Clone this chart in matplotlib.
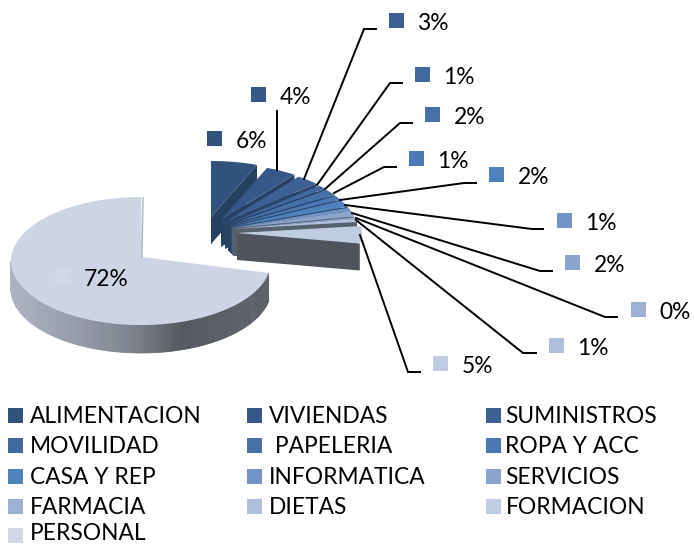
"""
Exploded 3D style pie of expenses, drawn by hand on a pixel sized axes
"""

import matplotlib
matplotlib.use('Agg')
import matplotlib.pyplot as plt
from matplotlib.collections import PolyCollection
from matplotlib.colors import to_rgb
from matplotlib.patches import Polygon, Rectangle
import numpy as np

categories = ['ALIMENTACION', 'VIVIENDAS', 'SUMINISTROS', 'MOVILIDAD', ' PAPELERIA', 'ROPA Y ACC',
              'CASA Y REP', 'INFORMATICA', 'SERVICIOS', 'FARMACIA', 'DIETAS', 'FORMACION', 'PERSONAL']
values = [6.0, 4.0, 3.0, 1.2, 1.8, 1.2, 1.9, 1.0, 1.6, 0.4, 0.9, 5.0, 72.0]
colors = ['#31527c', '#37598a', '#3c6093', '#41689f', '#4570a8', '#4a79b5', '#4f81bd',
          '#7394c6', '#8aa4cc', '#9eb1d2', '#b0c0dc', '#c0cce1', '#d0d8e8']

# layout, all in pixels of the original picture
apex = [(211, 217), (221, 220), (225, 222), (228, 224), (229, 225), (230, 226), (231, 227),
        (232, 228), (232, 228), (233, 229), (233, 229), (237, 233)]
shade = [0.78, 0.72, 0.72, 0.6, 0.6, 0.6, 0.6, 0.6, 0.6, 0.55, 0.5, 0.41]
label_sq = [(214.5, 138.5), (258.5, 94.5), (396.5, 20.5), (422.5, 74.5), (432.5, 114.5), (416.5, 158.5),
            (496.5, 174.5), (564.5, 220.5), (572.5, 262.5), (638.5, 309.5), (556.5, 345.5), (440.5, 363.5),
            (62.5, 276)]
leaders = [None,
           [(277.5, 170), (277.5, 111)],
           [(304, 179), (364, 29), (376, 29)],
           [(317, 185), (390, 83), (402, 83)],
           [(325, 189), (400, 123), (412, 123)],
           [(334, 193), (384, 167), (396, 167)],
           [(340, 200), (464, 183), (476, 183)],
           [(345, 205), (532, 229), (543, 229)],
           [(352, 213), (540, 271), (552, 271)],
           [(356, 218), (605, 317), (617, 317)],
           [(356, 220), (523, 353), (536, 353)],
           [(360, 235), (408, 372), (420, 372)],
           None]
legend_x = [8, 247, 486]
legend_text_x = [30, 269, 505.5]
legend_y = [415.5, 445.5, 476.5, 506.5, 535]
legend_base = [423, 453, 484, 514, 540.5]

FONT = 'Lato'
FONT_SIZE = 16.4
DEPTH = 27


def arc(cx, cy, rx, ry, a0, a1, n=60):
    """Points on an ellipse, angles in degrees clockwise from the top"""
    t = np.radians(np.linspace(a0, a1, n))
    return np.column_stack([cx + rx * np.sin(t), cy - ry * np.cos(t)])


fig = plt.figure(figsize=(6.94, 5.45), dpi=100)
ax = fig.add_axes([0, 0, 1, 1])
ax.set_xlim(0, 694)
ax.set_ylim(545, 0)
ax.axis('off')

edges = np.cumsum([0] + values) / sum(values) * 360

# --- small exploded slices, back to front ---
for i in range(12):
    ax_, ay_ = apex[i]
    pts = arc(ax_, ay_, 125, 56, edges[i], edges[i + 1], 20)
    end = pts[-1]
    dark = tuple(c * shade[i] for c in to_rgb(colors[i]))
    cut = [(ax_, ay_), tuple(end), (end[0], end[1] + DEPTH), (ax_, ay_ + DEPTH)]
    ax.add_patch(Polygon(cut, closed=True, facecolor=dark, edgecolor='none', zorder=2 + i))
    # left cut of the first slice shows as a straight wall
    if i == 0:
        ax.add_patch(Rectangle((ax_, ay_), 1.5, DEPTH, facecolor=dark, edgecolor='none', zorder=2))
    top = np.vstack([[(ax_, ay_)], pts])
    ax.add_patch(Polygon(top, closed=True, facecolor=colors[i], edgecolor='none', zorder=2.5 + i))

# --- big slice ---
cx, cy, rx, ry = 141, 261, 130, 64
rim = arc(cx, cy, rx, ry, edges[12], 270, 170)
stop_x = [10, 60, 130, 180, 270]
stop_c = np.array([to_rgb(c) for c in ['#adb3c0', '#9ba1ae', '#7f858f', '#54585f', '#5f636b']])
strips, strip_c = [], []
for p, q in zip(rim[:-1], rim[1:]):
    strips.append([p, q, (q[0], q[1] + 28), (p[0], p[1] + 28)])
    mx = (p[0] + q[0]) / 2
    strip_c.append([np.interp(mx, stop_x, stop_c[:, k]) for k in range(3)])
ax.add_collection(PolyCollection(strips, facecolors=strip_c, edgecolors=strip_c, linewidths=0.5, zorder=20))
big = np.vstack([[(142, 257)], arc(cx, cy, rx, ry, edges[12], 360, 200)])
ax.add_patch(Polygon(big, closed=True, facecolor='#cdd5e5', edgecolor='none', zorder=21))
ax.plot([143, 142], [198, 257], color='#aab2c2', lw=1, zorder=22)

# --- leader lines and data labels ---
for i in range(13):
    if leaders[i]:
        xs = [p[0] for p in leaders[i]]
        ys = [p[1] for p in leaders[i]]
        ax.plot(xs, ys, color='black', lw=1.4, solid_joinstyle='miter', zorder=30)
    x, y = label_sq[i]
    ax.add_patch(Rectangle((x - 7.5, y - 7.5), 15, 15, facecolor=colors[i], edgecolor='none', zorder=31))
    ax.text(x + 21, y + 9.5, f'{round(values[i])}%', fontsize=FONT_SIZE, family=FONT, color='black',
            va='baseline', ha='left', zorder=32)

# --- legend ---
for i, name in enumerate(categories):
    row, col = divmod(i, 3)
    ax.add_patch(Rectangle((legend_x[col], legend_y[row] - 7.5), 15, 15, facecolor=colors[i], edgecolor='none'))
    ax.text(legend_text_x[col], legend_base[row], name, fontsize=FONT_SIZE, family=FONT, color='black',
            va='baseline', ha='left')

fig.savefig('out.png', dpi=100, facecolor='white')
plt.close(fig)
